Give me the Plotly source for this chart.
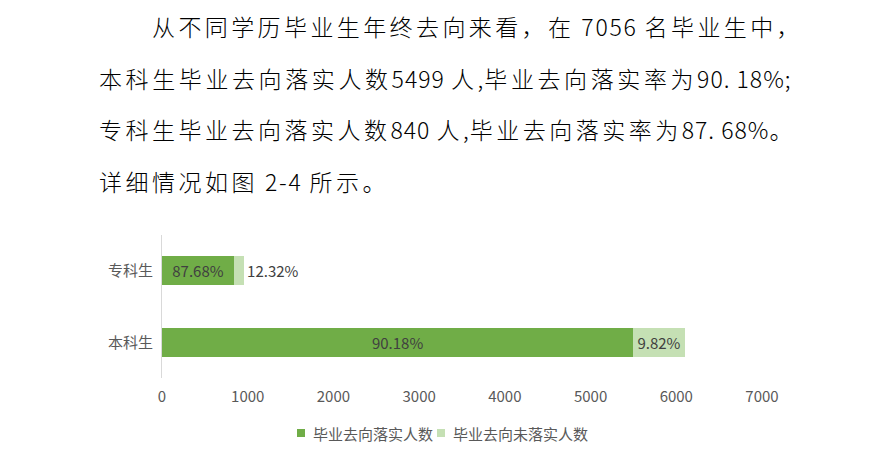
import re
import plotly.graph_objects as go

# data
categories = ["本科生", "专科生"]
placed = [5499, 840]
unplaced = [599, 118]
placed_pct = ["90.18%", "87.68%"]
unplaced_pct = ["9.82%", "12.32%"]
series_names = ["毕业去向落实人数", "毕业去向未落实人数"]
x_ticks = [0, 1000, 2000, 3000, 4000, 5000, 6000, 7000]

para_lines = [
    "从不同学历毕业生年终去向来看，在 7056 名毕业生中，",
    "本科生毕业去向落实人数5499 人,毕业去向落实率为90. 18%;",
    "专科生毕业去向落实人数840 人,毕业去向落实率为87. 68%。",
    "详细情况如图 2-4 所示。",
]

DARK = "#70AD47"
LIGHT = "#C5E0B4"
GREY = "#595959"
CHART_FONT = "Noto Sans CJK SC"
TEXT_FONT = "Noto Sans CJK SC"

# the page body adds an 8px offset, so work in screen pixels and subtract it
OFF = 8
W, H = 885 - OFF, 470 - OFF
# plot area in screen pixels: x 162..762, y 235..378
L, R, T, B = 162 - OFF, W - (762 - OFF), 235 - OFF, H - (378 - OFF)
pw, ph = W - L - R, H - T - B

CJK = r"[\u3000-\u303f\u4e00-\u9fff\uff00-\uffef]"


def px(x):
    return (x - OFF - L) / pw


def py(y):
    return (H - B - (y - OFF)) / ph


def styled(txt, cjk_sp, lat_sp):
    # wider tracking for Chinese runs, tighter for digits and punctuation
    parts = re.findall(CJK + "+|[^" + CJK[1:-1] + "]+", txt)
    out = []
    for p in parts:
        sp = cjk_sp if re.match(CJK, p) else lat_sp
        out.append(f'<span style="font-weight:300;letter-spacing:{sp}px">{p}</span>')
    return "".join(out)


fig = go.Figure()

fig.add_trace(go.Bar(
    y=categories, x=placed, orientation="h", name=series_names[0],
    marker=dict(color=DARK, line=dict(width=0)),
    text=placed_pct, textposition="inside", insidetextanchor="middle",
    textfont=dict(color="#404040", size=15, family=CHART_FONT),
    hoverinfo="skip", showlegend=False,
))
fig.add_trace(go.Bar(
    y=categories, x=unplaced, orientation="h", name=series_names[1],
    marker=dict(color=LIGHT, line=dict(width=0)),
    text=unplaced_pct, textposition=["inside", "outside"], insidetextanchor="middle",
    textfont=dict(color="#404040", size=15, family=CHART_FONT),
    cliponaxis=False, hoverinfo="skip", showlegend=False,
))

# paragraph text above the chart
line_y = [26, 77.5, 129, 181]
line_x = [150, 97, 97, 97]
cjk_spacing = [3.4, 3.6, 3.5, 3.5]
lat_spacing = [1.8, 1.0, 1.0, 1.8]
for txt, xx, yy, cs, ls in zip(para_lines, line_x, line_y, cjk_spacing, lat_spacing):
    fig.add_annotation(
        text=styled(txt, cs, ls),
        xref="paper", yref="paper", x=px(xx), y=py(yy),
        xanchor="left", yanchor="middle", showarrow=False,
        font=dict(size=23, color="#000000", family=TEXT_FONT),
    )

# legend drawn by hand to get the compact spacing
legend_x = [297, 437]
for name, color, lx in zip(series_names, [DARK, LIGHT], legend_x):
    fig.add_shape(
        type="rect", xref="paper", yref="paper",
        x0=px(lx), x1=px(lx + 8), y0=py(437), y1=py(429),
        fillcolor=color, line=dict(width=0),
    )
    fig.add_annotation(
        text=name, xref="paper", yref="paper", x=px(lx + 14), y=py(433),
        xanchor="left", yanchor="middle", showarrow=False,
        font=dict(size=15, color=GREY, family=CHART_FONT),
    )

fig.update_layout(
    width=W, height=H,
    margin=dict(l=L, r=R, t=T, b=B),
    barmode="stack", bargap=0.6,
    paper_bgcolor="white", plot_bgcolor="white",
    font=dict(family=CHART_FONT, size=15, color=GREY),
    showlegend=False,
    xaxis=dict(
        range=[0, 7000], tickvals=x_ticks, showgrid=False, zeroline=False,
        showline=False, ticks="", ticklabelstandoff=8,
        tickfont=dict(size=15, color=GREY),
    ),
    yaxis=dict(
        showgrid=False, zeroline=False, showline=True, linecolor="#D9D9D9",
        linewidth=1, ticks="", ticklabelstandoff=5, tickfont=dict(size=15, color=GREY),
    ),
)

fig.write_html("out.html")
